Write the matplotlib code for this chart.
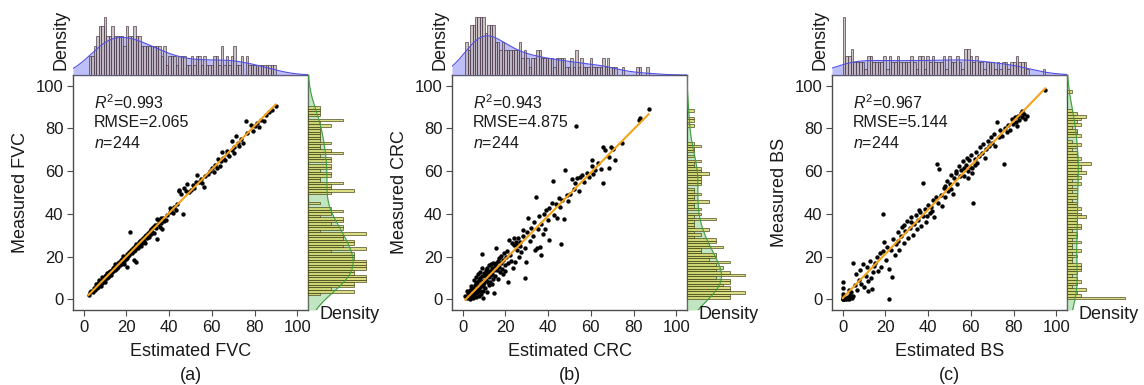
import numpy as np
import matplotlib
matplotlib.use('Agg')
import matplotlib.pyplot as plt

plt.rcParams['font.family'] = ['Liberation Sans', 'DejaVu Sans']
plt.rcParams['mathtext.fontset'] = 'custom'
plt.rcParams['mathtext.rm'] = 'Liberation Sans'
plt.rcParams['mathtext.it'] = 'Liberation Sans:italic'

# (estimated, measured) pairs
fvc_points = [
    (2.3, 2.0), (3.0, 3.2), (3.5, 4.1), (4.2, 3.6), (4.8, 5.5), (5.1, 4.3), (5.6, 6.2), (5.9, 7.4),
    (6.0, 5.1), (6.3, 7.0), (6.7, 5.8), (7.0, 9.2), (7.1, 6.6), (7.4, 8.1), (7.8, 7.0), (8.0, 6.3),
    (8.3, 8.6), (8.6, 7.7), (8.8, 10.6), (8.9, 9.4), (9.1, 8.2), (9.3, 10.1), (9.6, 9.0), (9.8, 7.9),
    (9.9, 11.0), (10.2, 9.6), (10.4, 11.3), (10.7, 10.0), (11.0, 12.2), (11.2, 10.4), (11.5, 11.8),
    (11.8, 12.9), (12.0, 11.1), (12.3, 13.4), (12.5, 12.0), (12.8, 11.6), (13.1, 13.9), (13.4, 12.7),
    (13.6, 14.5), (13.9, 13.2), (14.2, 15.1), (14.5, 13.8), (14.7, 16.3), (15.0, 14.2), (15.3, 15.7),
    (15.6, 14.8), (15.9, 17.0), (16.1, 15.3), (16.4, 16.9), (16.7, 17.6), (17.0, 15.9), (17.3, 18.2),
    (17.6, 16.6), (17.9, 19.0), (18.2, 17.4), (18.5, 20.5), (18.8, 18.0), (19.1, 16.4), (19.4, 19.9),
    (19.8, 18.9), (20.1, 21.2), (20.4, 19.5), (20.5, 15.2), (20.7, 20.3), (21.0, 22.0), (21.3, 20.8),
    (21.6, 31.3), (21.9, 21.5), (22.2, 23.3), (22.5, 21.9), (22.8, 22.6), (23.1, 24.1), (23.4, 22.4),
    (23.6, 18.5), (23.8, 25.0), (24.1, 23.2), (24.4, 26.1), (24.5, 17.6), (24.7, 24.0), (25.0, 25.6),
    (25.4, 23.8), (25.7, 26.8), (26.0, 25.2), (26.4, 27.4), (26.7, 24.9), (27.0, 27.9), (27.4, 26.2),
    (27.8, 28.6), (28.1, 27.2), (28.5, 29.6), (28.9, 26.4), (29.3, 30.0), (29.7, 28.5), (30.1, 31.2),
    (30.5, 29.4), (30.9, 31.9), (31.3, 30.6), (31.7, 33.0), (32.1, 31.4), (32.5, 33.9), (32.9, 31.0),
    (33.3, 34.6), (33.7, 33.2), (34.1, 37.8), (34.4, 28.3), (34.8, 35.2), (35.2, 36.9), (35.6, 34.0),
    (36.0, 37.9), (36.4, 35.8), (36.8, 32.9), (37.3, 38.1), (37.8, 36.5), (38.3, 37.2), (39.0, 39.4),
    (40.2, 40.9), (40.6, 42.7), (41.1, 41.6), (41.7, 40.3), (42.3, 43.1), (43.0, 42.0), (43.8, 44.5),
    (44.5, 51.2), (44.8, 50.9), (45.6, 49.2), (46.6, 39.8), (46.8, 52.0), (47.7, 50.8), (48.4, 53.9),
    (49.2, 50.1), (50.3, 51.0), (51.0, 53.4), (51.8, 52.2), (52.6, 54.7), (53.1, 58.3), (53.9, 55.1),
    (54.7, 56.3), (55.3, 54.6), (56.2, 52.8), (57.0, 57.9), (58.1, 58.6), (59.2, 60.1), (60.1, 61.4),
    (60.8, 59.6), (61.5, 62.7), (62.3, 61.3), (62.9, 65.6), (63.6, 62.4), (64.4, 64.9), (64.8, 68.8),
    (65.3, 66.2), (66.2, 65.4), (67.0, 68.1), (67.2, 69.2), (68.1, 67.3), (69.2, 69.8), (69.5, 73.9),
    (70.2, 71.4), (70.3, 68.4), (71.1, 76.6), (72.0, 73.1), (72.8, 71.8), (73.7, 75.0), (74.5, 73.4),
    (75.8, 83.3), (76.6, 77.9), (78.1, 81.7), (79.2, 79.0), (80.3, 80.9), (81.2, 82.4), (82.0, 80.7),
    (83.1, 84.0), (84.3, 83.5), (85.5, 86.2), (86.7, 87.5), (88.0, 88.4), (89.8, 90.3),
]

crc_points = [
    (1.2, 1.6), (1.8, 0.4), (2.1, 4.0), (2.3, 2.9), (2.7, 1.1), (3.0, 3.8), (3.2, 0.2), (3.5, 2.2),
    (3.8, 4.6), (3.9, 6.1), (4.0, 1.5), (4.3, 3.0), (4.6, 0.8), (4.8, 5.3), (5.0, 2.6), (5.2, 4.1),
    (5.4, 1.9), (5.5, 8.9), (5.7, 6.8), (5.9, 3.3), (6.0, 10.5), (6.1, 7.5), (6.3, 0.9), (6.5, 5.0),
    (6.7, 2.8), (6.9, 8.2), (7.0, 11.8), (7.1, 4.4), (7.3, 6.1), (7.5, 1.6), (7.7, 9.0), (7.9, 3.7),
    (8.0, 13.0), (8.1, 5.8), (8.3, 10.2), (8.5, 7.1), (8.7, 2.5), (8.9, 21.2), (9.0, 14.7), (9.1, 11.0),
    (9.3, 6.4), (9.4, 0.5), (9.5, 8.7), (9.7, 4.0), (9.9, 12.3), (10.1, 7.8), (10.3, 10.9), (10.5, 5.2),
    (10.7, 13.6), (10.9, 9.1), (11.1, 11.9), (11.3, 3.6), (11.5, 14.8), (11.7, 8.3), (11.9, 12.7),
    (12.1, 6.9), (12.3, 15.9), (12.5, 10.4), (12.7, 13.1), (12.9, 8.0), (13.1, 16.4), (13.3, 11.5),
    (13.5, 7.3), (13.7, 14.6), (13.9, 12.0), (14.1, 17.2), (14.3, 9.6), (14.5, 13.8), (14.7, 2.8),
    (14.9, 15.6), (15.1, 11.0), (15.4, 16.9), (15.7, 23.9), (16.0, 13.5), (16.3, 18.1), (16.6, 9.4),
    (16.9, 15.0), (17.2, 19.4), (17.5, 12.6), (17.8, 17.0), (18.1, 20.3), (18.4, 14.2), (18.7, 11.8),
    (19.0, 18.6), (19.3, 21.5), (19.6, 16.1), (19.9, 13.1), (20.3, 19.7), (20.7, 22.6), (21.1, 16.8),
    (21.4, 8.3), (21.8, 27.8), (22.2, 20.9), (22.6, 18.0), (23.0, 26.3), (23.4, 14.6), (23.8, 25.4),
    (24.2, 28.6), (24.6, 17.5), (25.0, 26.9), (25.3, 25.5), (25.5, 23.2), (26.0, 28.6), (26.5, 19.8),
    (26.9, 27.0), (27.0, 25.0), (27.5, 22.2), (28.0, 29.8), (28.4, 32.5), (29.0, 24.1), (29.2, 9.8),
    (29.6, 17.3), (30.2, 31.6), (30.8, 38.0), (31.5, 27.4), (32.1, 33.5), (32.8, 29.6), (33.4, 36.4),
    (33.9, 23.1), (34.4, 47.8), (34.7, 23.9), (35.3, 32.9), (35.9, 38.8), (36.3, 24.7), (36.5, 20.8),
    (36.8, 35.2), (37.4, 30.4), (38.0, 39.9), (38.6, 33.1), (39.2, 41.8), (39.8, 37.0), (40.2, 27.8),
    (40.6, 42.7), (42.0, 45.3), (42.2, 55.2), (42.9, 39.4), (43.7, 44.6), (44.3, 38.0), (45.0, 47.3),
    (45.6, 43.0), (45.9, 25.9), (46.3, 46.3), (47.2, 37.8), (48.0, 60.3), (48.7, 49.0), (49.4, 46.0),
    (50.4, 49.4), (51.1, 56.3), (51.9, 51.7), (52.7, 54.4), (53.1, 80.9), (53.4, 56.7), (54.3, 50.6),
    (55.0, 57.2), (55.8, 58.3), (56.9, 55.0), (58.1, 59.1), (59.2, 57.4), (60.5, 65.3), (60.6, 62.2),
    (60.9, 58.8), (62.0, 60.5), (63.4, 64.0), (64.6, 61.2), (65.6, 71.3), (65.9, 54.4), (66.7, 70.0),
    (68.3, 66.6), (68.5, 61.4), (69.4, 71.3), (70.3, 70.3), (71.2, 65.3), (74.5, 73.4), (82.3, 84.1),
    (83.1, 84.8), (87.0, 89.0),
]

bs_points = [
    (0.0, 0.0), (0.0, 0.0), (0.0, 0.0), (0.0, 2.5), (0.0, 5.2), (0.0, 8.3), (0.3, 1.2), (0.6, 0.0),
    (1.2, 0.0), (1.6, 0.4), (2.0, 0.0), (2.5, 1.3), (2.8, 4.5), (3.0, 0.0), (3.4, 2.1), (3.8, 3.2),
    (4.2, 0.6), (4.7, 16.9), (5.0, 1.5), (5.6, 6.8), (6.2, 12.0), (6.9, 4.3), (7.5, 9.1), (8.2, 13.5),
    (8.8, 7.2), (9.5, 16.3), (10.1, 5.8), (10.8, 10.9), (11.4, 14.9), (11.8, 8.4), (12.0, 3.9),
    (12.7, 18.1), (13.3, 10.2), (13.9, 4.6), (14.0, 12.6), (14.6, 15.5), (15.3, 16.8), (16.0, 19.7),
    (16.7, 13.1), (17.4, 21.6), (18.1, 15.2), (18.8, 22.8), (19.0, 40.0), (19.5, 26.6), (20.2, 18.5),
    (20.9, 24.4), (21.6, 14.0), (21.9, 0.0), (22.6, 23.0), (23.0, 10.3), (23.6, 28.1), (24.3, 20.7),
    (25.0, 26.0), (25.7, 31.3), (26.0, 27.3), (26.4, 22.9), (27.1, 29.5), (27.8, 34.0), (28.5, 26.3),
    (28.9, 34.8), (29.2, 31.9), (29.9, 36.7), (30.6, 28.8), (31.3, 33.5), (31.9, 36.0), (32.0, 38.4),
    (32.7, 30.2), (33.4, 35.1), (34.1, 39.5), (34.8, 32.7), (35.4, 37.2), (35.9, 42.0), (36.1, 41.0),
    (36.8, 34.3), (37.5, 39.1), (37.8, 54.4), (38.5, 42.3), (39.2, 36.0), (39.6, 38.8), (40.0, 44.1),
    (40.7, 40.2), (41.4, 43.0), (41.9, 41.5), (42.1, 46.7), (42.8, 38.6), (43.5, 48.0), (44.0, 63.3),
    (44.6, 45.2), (45.3, 61.0), (45.9, 49.0), (46.6, 43.9), (47.3, 52.1), (47.7, 53.0), (48.0, 47.8),
    (48.7, 55.6), (49.4, 50.5), (50.1, 53.9), (50.5, 51.6), (50.8, 58.2), (51.5, 49.3), (52.2, 56.7),
    (52.9, 60.0), (53.2, 59.1), (53.6, 54.0), (54.3, 62.4), (54.9, 57.8), (55.6, 60.6), (56.2, 64.8),
    (56.9, 57.5), (57.0, 61.5), (57.5, 63.1), (58.1, 66.3), (58.5, 57.0), (58.8, 59.9), (59.0, 65.2),
    (59.4, 62.0), (60.0, 67.6), (60.3, 59.0), (60.6, 61.4), (61.2, 45.0), (61.8, 65.5), (62.0, 62.9),
    (62.4, 69.1), (63.0, 63.8), (63.7, 67.0), (64.3, 71.2), (65.0, 68.4), (65.7, 72.6), (66.4, 66.0),
    (67.1, 70.5), (67.8, 74.3), (68.5, 71.7), (69.2, 76.0), (69.9, 73.2), (70.6, 77.5), (71.3, 72.0),
    (72.2, 82.8), (73.0, 75.9), (73.8, 79.1), (74.6, 76.4), (75.3, 63.3), (76.0, 80.0), (76.8, 78.2),
    (77.6, 81.6), (78.4, 79.3), (79.1, 84.4), (79.9, 82.0), (80.6, 85.5), (81.3, 83.1), (81.5, 81.2),
    (82.0, 86.0), (82.7, 84.0), (83.4, 87.0), (83.9, 88.1), (84.1, 85.2), (84.8, 86.6), (85.5, 84.4),
    (86.2, 85.8), (94.8, 98.1),
]

names = ['FVC', 'CRC', 'BS']
r2_values = ['0.993', '0.943', '0.967']
rmse_values = ['2.065', '4.875', '5.144']
n_values = ['244', '244', '244']
tags = ['(a)', '(b)', '(c)']
ticks = [0, 20, 40, 60, 80, 100]


def kde(values, grid):
    # gaussian kde, scott bandwidth
    n = len(values)
    bw = values.std(ddof=1) * n ** (-0.2)
    z = (grid[:, None] - values[None, :]) / bw
    return np.exp(-0.5 * z ** 2).sum(axis=1) / (n * bw * np.sqrt(2 * np.pi))


W, H = 1144, 385
fig = plt.figure(figsize=(W / 100, H / 100), dpi=100)
lefts = [73, 452, 832]
lim = (-5, 105)
grid = np.linspace(lim[0], lim[1], 400)
spine_col = '#4d4d4d'
text_col = '#1a1a1a'

for i, pts in enumerate([fvc_points, crc_points, bs_points]):
    pts = np.array(pts)
    est, meas = pts[:, 0], pts[:, 1]
    left = lefts[i]

    ax = fig.add_axes([left / W, 75 / H, 235 / W, 235 / H])
    ax_top = fig.add_axes([left / W, 310 / H, 235 / W, 70 / H])
    ax_right = fig.add_axes([(left + 235) / W, 75 / H, 84 / W, 235 / H])

    # main scatter + fitted line
    ax.scatter(est, meas, s=10, c='black', linewidths=0, zorder=3)
    coef = np.polyfit(est, meas, 1)
    xs = np.array([est.min(), est.max()])
    ax.plot(xs, np.polyval(coef, xs), color='#f5a31a', lw=1.5, zorder=4)
    ax.set_xlim(*lim)
    ax.set_ylim(*lim)
    ax.set_xticks(ticks)
    ax.set_yticks(ticks)
    ax.tick_params(labelsize=12, length=4, width=0.8, color=spine_col,
                   labelcolor=text_col, pad=3)
    for sp in ax.spines.values():
        sp.set_color(spine_col)
        sp.set_linewidth(1.0)

    ax.text(0.089, 0.881, r'$R^{\mathrm{2}}$=' + r2_values[i], transform=ax.transAxes,
            fontsize=11.5, va='center', ha='left', color=text_col)
    ax.text(0.089, 0.796, 'RMSE=' + rmse_values[i], transform=ax.transAxes,
            fontsize=11.5, va='center', ha='left', color=text_col)
    ax.text(0.089, 0.711, r'$n$=' + n_values[i], transform=ax.transAxes,
            fontsize=11.5, va='center', ha='left', color=text_col)

    ax.text(-0.225, 0.5, 'Measured ' + names[i], transform=ax.transAxes, rotation=90,
            fontsize=13, ha='center', va='center', color=text_col)
    ax.text(0.5, -0.175, 'Estimated ' + names[i], transform=ax.transAxes,
            fontsize=13, ha='center', va='center', color=text_col)
    ax.text(0.5, -0.277, tags[i], transform=ax.transAxes,
            fontsize=13, ha='center', va='center', color=text_col)

    # top marginal: estimated
    counts, edges = np.histogram(est, bins=75, density=True)
    dens = kde(est, grid)
    ax_top.fill_between(grid, dens, color='#8a8af5', alpha=0.55, lw=0)
    ax_top.plot(grid, dens, color='#5050e0', lw=0.8)
    ax_top.bar(edges[:-1], counts, width=np.diff(edges), align='edge', color='#bdb2b2',
               alpha=0.75, edgecolor='#3d2b3d', linewidth=0.6)
    ax_top.set_xlim(*lim)
    ax_top.set_ylim(0, counts.max() * 1.2)
    ax_top.axis('off')
    ax_top.text(-0.052, 0.5, 'Density', transform=ax_top.transAxes, rotation=90,
                fontsize=13, ha='center', va='center', color=text_col)

    # right marginal: measured
    counts, edges = np.histogram(meas, bins=75, density=True)
    dens = kde(meas, grid)
    ax_right.fill_betweenx(grid, dens, color='#8fd08f', alpha=0.55, lw=0)
    ax_right.plot(dens, grid, color='#3f9f3f', lw=0.8)
    ax_right.barh(edges[:-1], counts, height=np.diff(edges), align='edge', color='#d2d25a',
                  alpha=0.75, edgecolor='#3b3b12', linewidth=0.6)
    ax_right.set_ylim(*lim)
    ax_right.set_xlim(0, counts.max() * 1.45)
    ax_right.axis('off')
    ax_right.text(0.5, 0.015, 'Density', transform=ax_right.transAxes,
                  fontsize=13, ha='center', va='top', color=text_col)

fig.savefig('out.png', dpi=100)
